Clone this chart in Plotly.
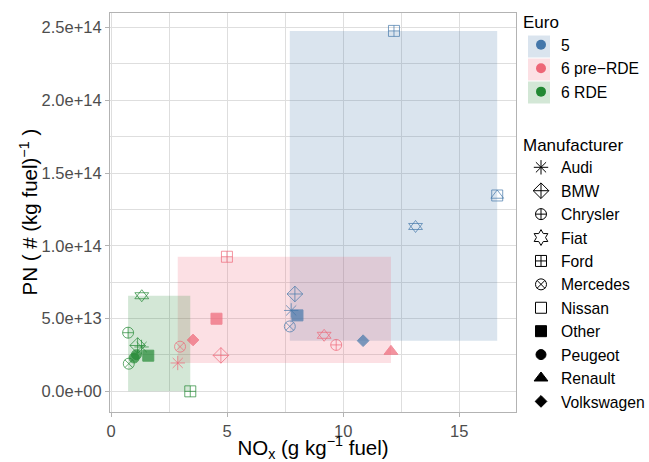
import plotly.graph_objects as go
import numpy as np

# ---- data ----
euro_levels = ["5", "6 pre\u2212RDE", "6 RDE"]
euro_colors = ["#4477AA", "#EE6677", "#228833"]
euro_fills = ["rgba(68,119,170,0.2)", "rgba(238,102,119,0.2)", "rgba(34,136,51,0.2)"]

manufacturers = ["Audi", "BMW", "Chrysler", "Fiat", "Ford", "Mercedes", "Nissan",
                 "Other", "Peugeot", "Renault", "Volkswagen"]

# Euro 5
e5_manu = ["Ford", "Nissan", "Fiat", "BMW", "Audi", "Other", "Mercedes", "Volkswagen"]
e5_nox = [12.19, 16.64, 13.12, 7.92, 7.76, 8.03, 7.70, 10.86]
e5_pn = [2.477e14, 1.346e14, 1.133e14, 6.69e13, 5.56e13, 5.22e13, 4.46e13, 3.48e13]

# Euro 6 pre-RDE
e6p_manu = ["Ford", "Other", "Fiat", "Volkswagen", "Chrysler", "Mercedes", "Renault", "BMW", "Audi"]
e6p_nox = [4.99, 4.54, 9.18, 3.53, 9.70, 2.97, 12.06, 4.73, 2.87]
e6p_pn = [9.25e13, 4.99e13, 3.85e13, 3.53e13, 3.19e13, 3.07e13, 2.75e13, 2.47e13, 1.95e13]

# Euro 6 RDE
e6r_manu = ["Fiat", "Chrysler", "BMW", "Audi", "Peugeot", "Peugeot", "Other", "Mercedes", "Ford"]
e6r_nox = [1.32, 0.73, 1.14, 1.31, 1.09, 0.99, 1.60, 0.76, 3.41]
e6r_pn = [6.57e13, 4.03e13, 3.15e13, 3.05e13, 2.52e13, 2.29e13, 2.45e13, 1.90e13, 0.0]

y_tickvals = [0, 5e13, 1e14, 1.5e14, 2e14, 2.5e14]
y_ticktext = ["0.0e+00", "5.0e+13", "1.0e+14", "1.5e+14", "2.0e+14", "2.5e+14"]
x_tickvals = [0, 5, 10, 15]
x_ticktext = ["0", "5", "10", "15"]

groups = [(e5_manu, e5_nox, e5_pn), (e6p_manu, e6p_nox, e6p_pn), (e6r_manu, e6r_nox, e6r_pn)]

sym_primary = {"Audi": "asterisk-open", "BMW": "diamond-cross-open", "Chrysler": "circle-cross-open",
               "Fiat": "triangle-up-open", "Ford": "square-cross-open", "Mercedes": "circle-x-open",
               "Nissan": "square-open", "Other": "square", "Peugeot": "circle",
               "Renault": "triangle-up", "Volkswagen": "diamond"}
sym_second = {"Fiat": "triangle-down-open", "Nissan": "triangle-up-open"}
sym_size = {"Audi": 12, "BMW": 12, "Chrysler": 11, "Fiat": 12, "Ford": 11, "Mercedes": 11,
            "Nissan": 11, "Other": 11, "Peugeot": 10, "Renault": 12, "Volkswagen": 9}
sym_legend = dict(sym_primary)
sym_legend["Fiat"] = "hexagram-open"

FONT = "Liberation Sans"
L, R, T, B = 110, 133, 13, 50
W, H = 649, 462
PW, PH = W - L - R, H - T - B
LEG_X = 521

def px2paper_x(px):
    return (px - L) / PW

def px2paper_y(py):
    return (H - B - py) / PH

fig = go.Figure()

# range rectangles from data
for (manu, nox, pn), fillc in zip(groups, euro_fills):
    x0, x1 = float(np.min(nox)), float(np.max(nox))
    y0, y1 = float(np.min(pn)), float(np.max(pn))
    fig.add_shape(type="rect", xref="x", yref="y", x0=x0, x1=x1, y0=y0, y1=y1,
                  fillcolor=fillc, line=dict(width=0), layer="between")

# points
for (manu, nox, pn), col in zip(groups, euro_colors):
    fig.add_trace(go.Scatter(
        x=nox, y=pn, mode="markers", showlegend=False, hoverinfo="skip",
        marker=dict(symbol=[sym_primary[m] for m in manu], size=[sym_size[m] for m in manu],
                    color=col, line=dict(color=col, width=1))))
    idx = [i for i, m in enumerate(manu) if m in sym_second]
    if idx:
        fig.add_trace(go.Scatter(
            x=[nox[i] for i in idx], y=[pn[i] for i in idx], mode="markers",
            showlegend=False, hoverinfo="skip",
            marker=dict(symbol=[sym_second[manu[i]] for i in idx],
                        size=[sym_size[manu[i]] for i in idx],
                        color=col, line=dict(color=col, width=1))))

# legend key boxes for Euro (behind legend dots)
key_tops = [35.5, 58.5, 81.5]
kx = LEG_X + 18
for top, fillc in zip(key_tops, euro_fills):
    fig.add_shape(type="rect", xref="paper", yref="paper",
                  x0=px2paper_x(kx - 11), x1=px2paper_x(kx + 11),
                  y0=px2paper_y(top + 22), y1=px2paper_y(top),
                  fillcolor=fillc, line=dict(width=0), layer="above")

# legend: Euro
for lvl, col in zip(euro_levels, euro_colors):
    fig.add_trace(go.Scatter(
        x=[None], y=[None], mode="markers", name=lvl, legend="legend",
        marker=dict(symbol="circle", size=10, color=col)))

# legend: Manufacturer
for m in manufacturers:
    fig.add_trace(go.Scatter(
        x=[None], y=[None], mode="markers", name=m, legend="legend2",
        marker=dict(symbol=sym_legend[m], size=sym_size[m], color="black",
                    line=dict(color="black", width=1))))

# y-axis title as annotation for precise placement
fig.add_annotation(text="PN ( # (kg fuel)<sup>\u22121</sup> )", xref="paper", yref="paper",
                   x=px2paper_x(28), y=0.5, xanchor="center", yanchor="middle",
                   textangle=-90, showarrow=False, font=dict(size=20.5, color="black", family=FONT))

grid = "#DEDEDE"
fig.update_layout(
    width=W, height=H,
    margin=dict(l=L, r=R, t=T, b=B, autoexpand=False),
    plot_bgcolor="white", paper_bgcolor="white",
    font=dict(family=FONT, size=16, color="black"),
    xaxis=dict(range=[-0.05, 17.45], tickvals=x_tickvals, ticktext=x_ticktext,
               showgrid=True, gridcolor=grid, gridwidth=1, automargin=False,
               minor=dict(dtick=2.5, tick0=0, showgrid=True, gridcolor=grid, gridwidth=1, ticks=""),
               zeroline=False, showline=True, linecolor="#B3B3B3", linewidth=1, mirror=True,
               ticks="outside", ticklen=4, tickcolor="#B3B3B3",
               tickfont=dict(size=16.5, color="#4D4D4D", family=FONT),
               title=dict(text="NO<sub>x</sub> (g kg<sup>\u22121</sup> fuel)", font=dict(size=20.5))),
    yaxis=dict(range=[-1.42e13, 2.60e14], tickvals=y_tickvals, ticktext=y_ticktext,
               showgrid=True, gridcolor=grid, gridwidth=1, automargin=False,
               minor=dict(dtick=2.5e13, tick0=0, showgrid=True, gridcolor=grid, gridwidth=1, ticks=""),
               zeroline=False, showline=True, linecolor="#B3B3B3", linewidth=1, mirror=True,
               ticks="outside", ticklen=4, tickcolor="#B3B3B3",
               tickfont=dict(size=16.5, color="#4D4D4D", family=FONT)),
    legend=dict(title=dict(text="Euro", font=dict(size=17)), xref="container", yref="container",
                x=LEG_X / W, xanchor="left", y=1 - 6 / H, yanchor="top", maxheight=400,
                font=dict(size=15.7), itemwidth=30, bgcolor="rgba(0,0,0,0)", tracegroupgap=0),
    legend2=dict(title=dict(text="Manufacturer", font=dict(size=17)), xref="container", yref="container",
                 x=LEG_X / W, xanchor="left", y=1 - 128.5 / H, yanchor="top", maxheight=400,
                 font=dict(size=15.7), itemwidth=30, bgcolor="rgba(0,0,0,0)", tracegroupgap=0),
)

fig.write_html("out.html")
